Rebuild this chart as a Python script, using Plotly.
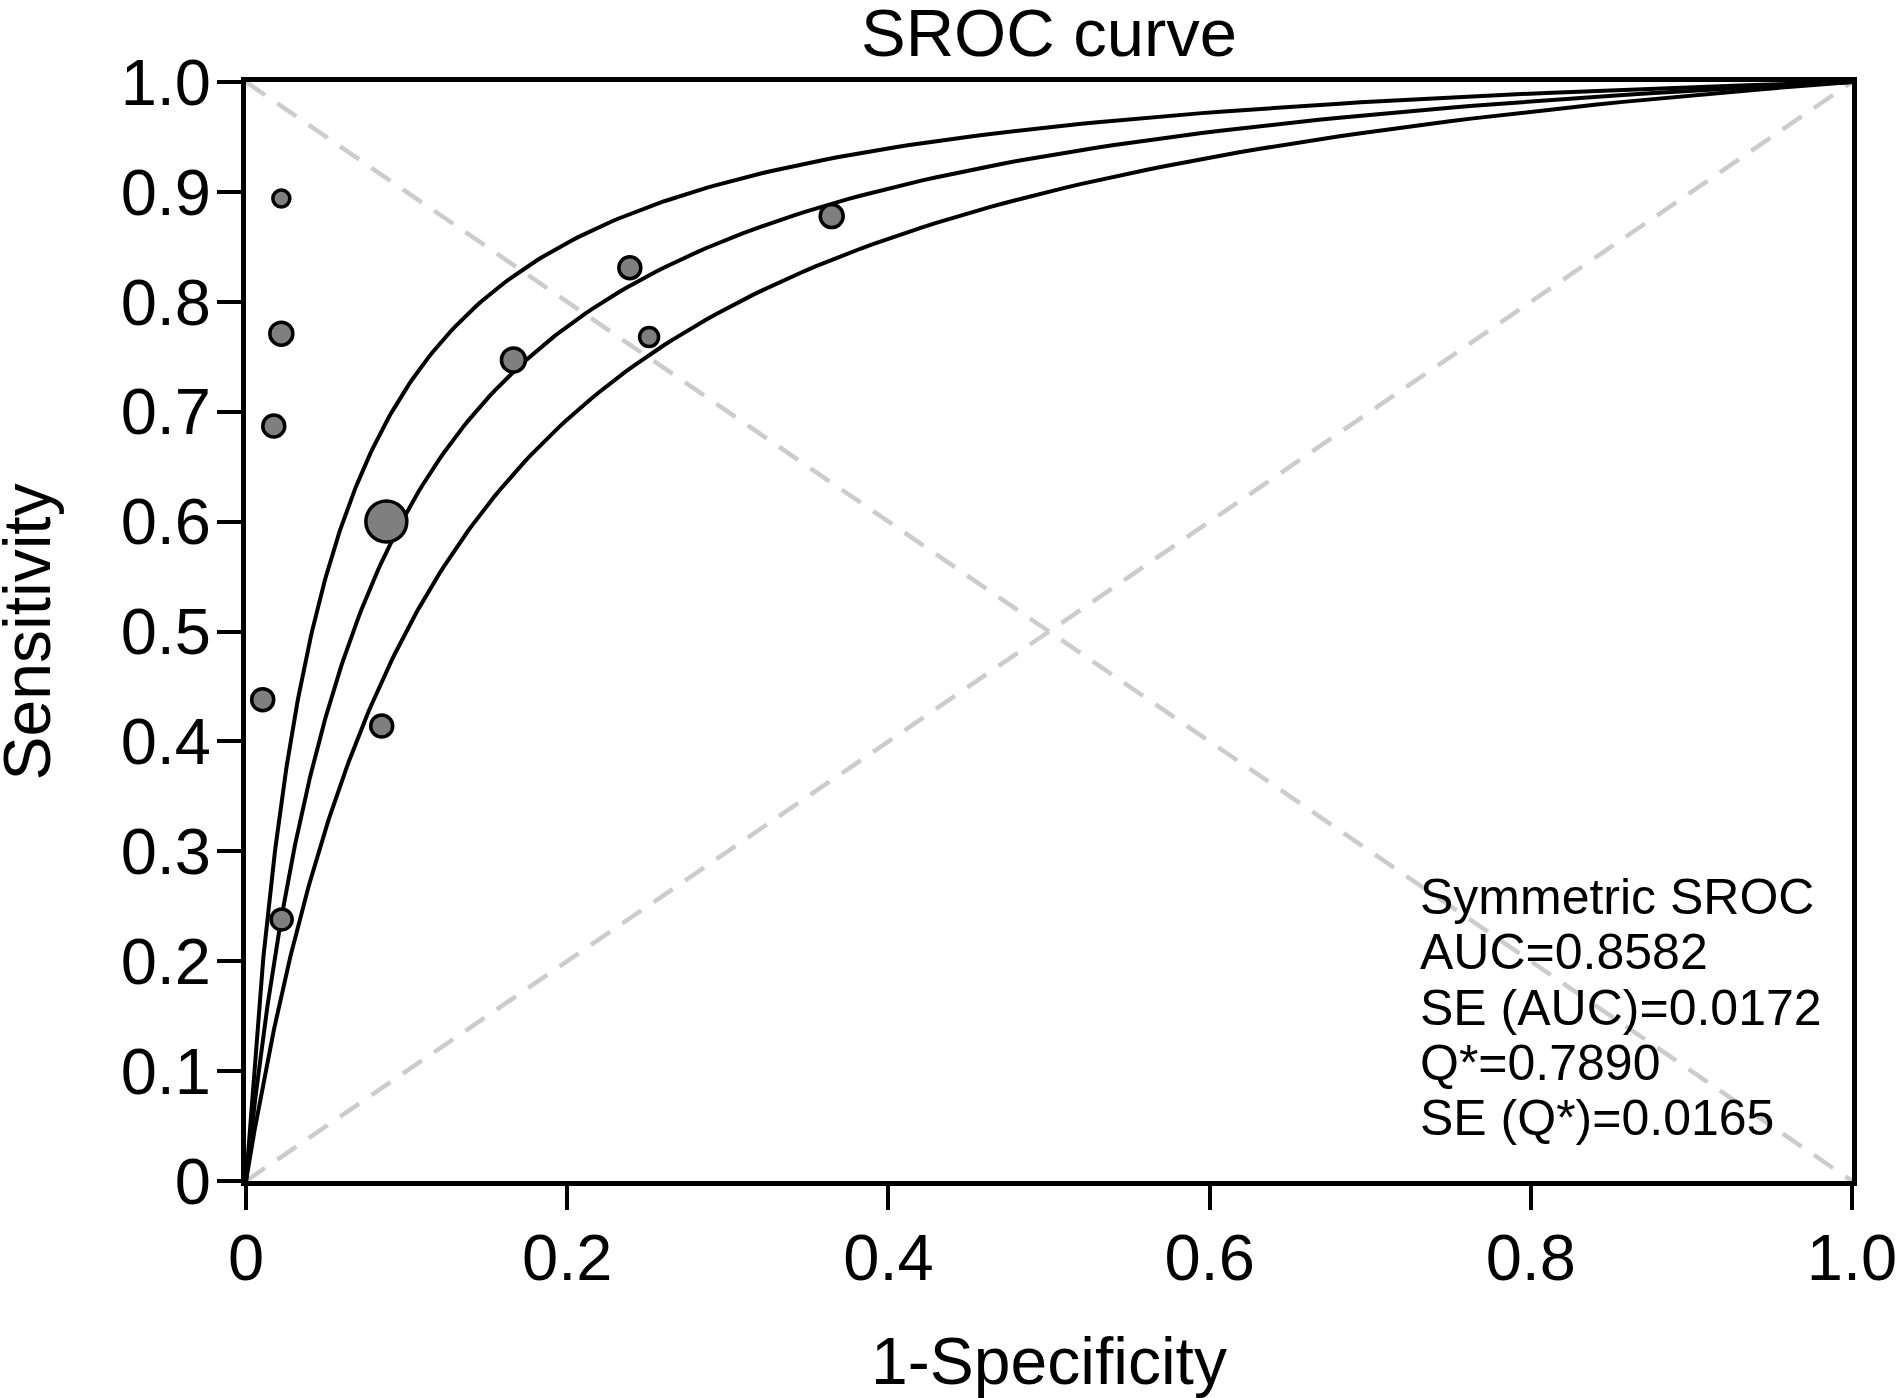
import numpy as np
import plotly.graph_objects as go

# ---- data ----
fpr = [0.022, 0.022, 0.0173, 0.0874, 0.0104, 0.0845, 0.0222, 0.1665, 0.239, 0.251, 0.3647]
sens = [0.894, 0.771, 0.687, 0.600, 0.438, 0.414, 0.238, 0.747, 0.831, 0.768, 0.878]
weights = [17, 23, 22, 41, 22, 22, 21, 24, 22, 19, 23]  # marker diameters (study weight)

# symmetric SROC model: logit(TPR) = a + logit(FPR); a = 2*logit(Q*)
q_star = 0.7890
a_mid = 2 * np.log(q_star / (1 - q_star))
a_upper = 3.15
a_lower = 2.20

stats_lines = ["Symmetric SROC", "AUC=0.8582", "SE (AUC)=0.0172", "Q*=0.7890", "SE (Q*)=0.0165"]
tick_vals = [0, 0.1, 0.2, 0.3, 0.4, 0.5, 0.6, 0.7, 0.8, 0.9, 1.0]
y_tick_text = ["0", "0.1", "0.2", "0.3", "0.4", "0.5", "0.6", "0.7", "0.8", "0.9", "1.0"]
x_tick_vals = [0, 0.2, 0.4, 0.6, 0.8, 1.0]
x_tick_text = ["0", "0.2", "0.4", "0.6", "0.8", "1.0"]

FONT = "Liberation Sans, Arial, sans-serif"

f_grid = np.concatenate([[0.0], np.geomspace(1e-5, 1.0, 600)])


def sroc(a, f):
    return f / (f + np.exp(-a) * (1 - f))


fig = go.Figure()

# chance diagonals
for yy in ([0, 1], [1, 0]):
    fig.add_trace(go.Scatter(x=[0, 1], y=yy, mode="lines",
                             line=dict(color="#cccccc", width=4.5, dash="23px,15px"),
                             hoverinfo="skip", showlegend=False))

for a in (a_upper, a_mid, a_lower):
    fig.add_trace(go.Scatter(x=f_grid, y=sroc(a, f_grid), mode="lines",
                             line=dict(color="black", width=4),
                             hoverinfo="skip", showlegend=False))

fig.add_trace(go.Scatter(x=fpr, y=sens, mode="markers",
                         marker=dict(size=weights, color="#7f7f7f", opacity=1,
                                     line=dict(color="black", width=3.5)),
                         showlegend=False))

# statistics text block (one annotation per line)
line_y = [0.2580, 0.2080, 0.1575, 0.1078, 0.0575]
for txt, yy in zip(stats_lines, line_y):
    fig.add_annotation(x=0.7298, y=yy, xref="x", yref="y", text=txt,
                       showarrow=False, xanchor="left", yanchor="middle",
                       font=dict(family=FONT, size=50, color="black"))

# y-axis title placed as rotated annotation
fig.add_annotation(x=-0.1364, y=0.5, xref="paper", yref="paper", text="Sensitivity",
                   showarrow=False, textangle=-90, xanchor="center", yanchor="middle",
                   font=dict(family=FONT, size=66, color="black"))

axis_common = dict(range=[0, 1], showgrid=False, zeroline=False, automargin=False,
                   showline=True, linecolor="black", linewidth=5, mirror=True,
                   ticks="outside", ticklen=24, tickwidth=4, tickcolor="black",
                   tickfont=dict(family=FONT, size=65, color="black"))

fig.update_xaxes(**axis_common, tickvals=x_tick_vals, ticktext=x_tick_text,
                 ticklabelstandoff=-8,
                 title=dict(text="1-Specificity", standoff=46,
                            font=dict(family=FONT, size=66, color="black")))
fig.update_yaxes(**axis_common, tickvals=tick_vals, ticktext=y_tick_text,
                 ticklabelstandoff=-7)

fig.update_layout(
    width=1898, height=1398,
    margin=dict(l=246, r=46, t=82, b=217, autoexpand=False),
    paper_bgcolor="white", plot_bgcolor="white",
    title=dict(text="SROC curve", x=0.5, xref="paper", xanchor="center",
               y=1 - 33 / 1398, yref="container", yanchor="middle",
               font=dict(family=FONT, size=67, color="black")),
)

fig.write_html("out.html", config={"displayModeBar": False},
               post_script="document.body.style.margin='0';document.body.style.overflow='hidden';")
